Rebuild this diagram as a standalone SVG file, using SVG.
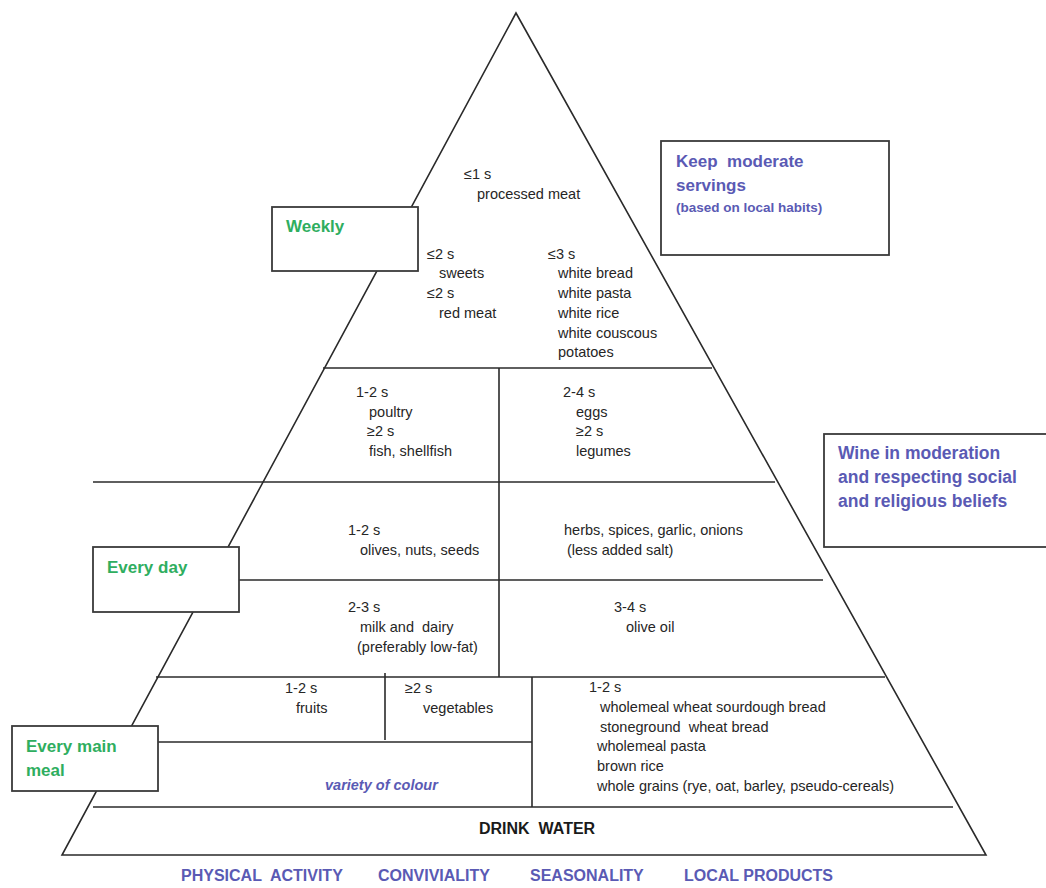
<svg xmlns="http://www.w3.org/2000/svg" width="1046" height="888" viewBox="0 0 1046 888">
<style>
.ln{stroke:#2a2a2a;stroke-width:1.6;fill:none}
.box{fill:#fff;stroke:#3a3a3a;stroke-width:1.8}
.t{font-family:"Liberation Sans",Arial,sans-serif;font-size:14.5px;fill:#262626}
.g{font-family:"Liberation Sans",Arial,sans-serif;font-size:17px;font-weight:bold;fill:#2fae5f}
.b{font-family:"Liberation Sans",Arial,sans-serif;font-weight:bold;fill:#5a5ab4}
.k{font-family:"Liberation Sans",Arial,sans-serif;font-size:16px;font-weight:bold;fill:#1a1a1a}
</style>
<rect width="1046" height="888" fill="#fff"/>
<g id="connectors">
<polygon class="ln" points="516,13 62,855 986,855"/>
<line class="ln" x1="323" y1="368" x2="712" y2="368"/>
<line class="ln" x1="93" y1="482" x2="775" y2="482"/>
<line class="ln" x1="239" y1="580" x2="823" y2="580"/>
<line class="ln" x1="156" y1="677" x2="885" y2="677"/>
<line class="ln" x1="158" y1="742" x2="532" y2="742"/>
<line class="ln" x1="93" y1="807" x2="953" y2="807"/>
<line class="ln" x1="499" y1="368" x2="499" y2="677"/>
<line class="ln" x1="385" y1="673" x2="385" y2="740"/>
<line class="ln" x1="532" y1="677" x2="532" y2="807"/>
</g>
<g id="weekly-box">
<rect class="box" x="272" y="207" width="146" height="64"/>
<text class="g" x="286" y="232">Weekly</text>
</g>
<g id="everyday-box">
<rect class="box" x="93" y="547" width="146" height="65"/>
<text class="g" x="107" y="573">Every day</text>
</g>
<g id="mainmeal-box">
<rect class="box" x="12" y="726" width="146" height="65"/>
<text class="g" x="26" y="752">Every main</text>
<text class="g" x="26" y="776">meal</text>
</g>
<g id="moderate-box">
<rect class="box" x="661" y="141" width="228" height="114"/>
<text class="b" x="676" y="167" font-size="17" xml:space="preserve">Keep  moderate</text>
<text class="b" x="676" y="191" font-size="17">servings</text>
<text class="b" x="676" y="212" font-size="13.5">(based on local habits)</text>
</g>
<g id="wine-box">
<rect class="box" x="824" y="434" width="240" height="113"/>
<text class="b" x="838" y="459" font-size="17.5">Wine in moderation</text>
<text class="b" x="838" y="483" font-size="17.5">and respecting social</text>
<text class="b" x="838" y="507" font-size="17.5">and religious beliefs</text>
</g>
<g id="top-tier">
<text class="t" x="464" y="179">≤1 s</text>
<text class="t" x="477" y="199">processed meat</text>
<text class="t" x="427" y="259">≤2 s</text>
<text class="t" x="439" y="278">sweets</text>
<text class="t" x="427" y="298">≤2 s</text>
<text class="t" x="439" y="318">red meat</text>
<text class="t" x="548" y="259">≤3 s</text>
<text class="t" x="558" y="278">white bread</text>
<text class="t" x="558" y="298">white pasta</text>
<text class="t" x="558" y="318">white rice</text>
<text class="t" x="558" y="338">white couscous</text>
<text class="t" x="558" y="357">potatoes</text>
</g>
<g id="protein-left">
<text class="t" x="356" y="397">1-2 s</text>
<text class="t" x="369" y="417">poultry</text>
<text class="t" x="367" y="436">≥2 s</text>
<text class="t" x="369" y="456">fish, shellfish</text>
</g>
<g id="protein-right">
<text class="t" x="563" y="397">2-4 s</text>
<text class="t" x="576" y="417">eggs</text>
<text class="t" x="576" y="436">≥2 s</text>
<text class="t" x="576" y="456">legumes</text>
</g>
<g id="olives">
<text class="t" x="348" y="535">1-2 s</text>
<text class="t" x="360" y="555">olives, nuts, seeds</text>
</g>
<g id="herbs">
<text class="t" x="564" y="535">herbs, spices, garlic, onions</text>
<text class="t" x="567" y="555">(less added salt)</text>
</g>
<g id="dairy">
<text class="t" x="348" y="612">2-3 s</text>
<text class="t" x="360" y="632" xml:space="preserve">milk and  dairy</text>
<text class="t" x="357" y="652">(preferably low-fat)</text>
</g>
<g id="oliveoil">
<text class="t" x="614" y="612">3-4 s</text>
<text class="t" x="626" y="632">olive oil</text>
</g>
<g id="fruits">
<text class="t" x="285" y="693">1-2 s</text>
<text class="t" x="296" y="713">fruits</text>
</g>
<g id="vegetables">
<text class="t" x="405" y="693">≥2 s</text>
<text class="t" x="423" y="713">vegetables</text>
</g>
<g id="colour">
<text class="b" x="325" y="790" font-size="14.5" font-style="italic" font-weight="normal">variety of colour</text>
</g>
<g id="cereals">
<text class="t" x="589" y="692">1-2 s</text>
<text class="t" x="600" y="712">wholemeal wheat sourdough bread</text>
<text class="t" x="600" y="732" xml:space="preserve">stoneground  wheat bread</text>
<text class="t" x="597" y="751">wholemeal pasta</text>
<text class="t" x="597" y="771">brown rice</text>
<text class="t" x="597" y="791">whole grains (rye, oat, barley, pseudo-cereals)</text>
</g>
<g id="water">
<text class="k" x="479" y="834" xml:space="preserve">DRINK  WATER</text>
</g>
<g id="footer">
<text class="b" x="181" y="881" font-size="16" xml:space="preserve">PHYSICAL  ACTIVITY</text>
<text class="b" x="378" y="881" font-size="16">CONVIVIALITY</text>
<text class="b" x="530" y="881" font-size="16">SEASONALITY</text>
<text class="b" x="684" y="881" font-size="16">LOCAL PRODUCTS</text>
</g>
</svg>
